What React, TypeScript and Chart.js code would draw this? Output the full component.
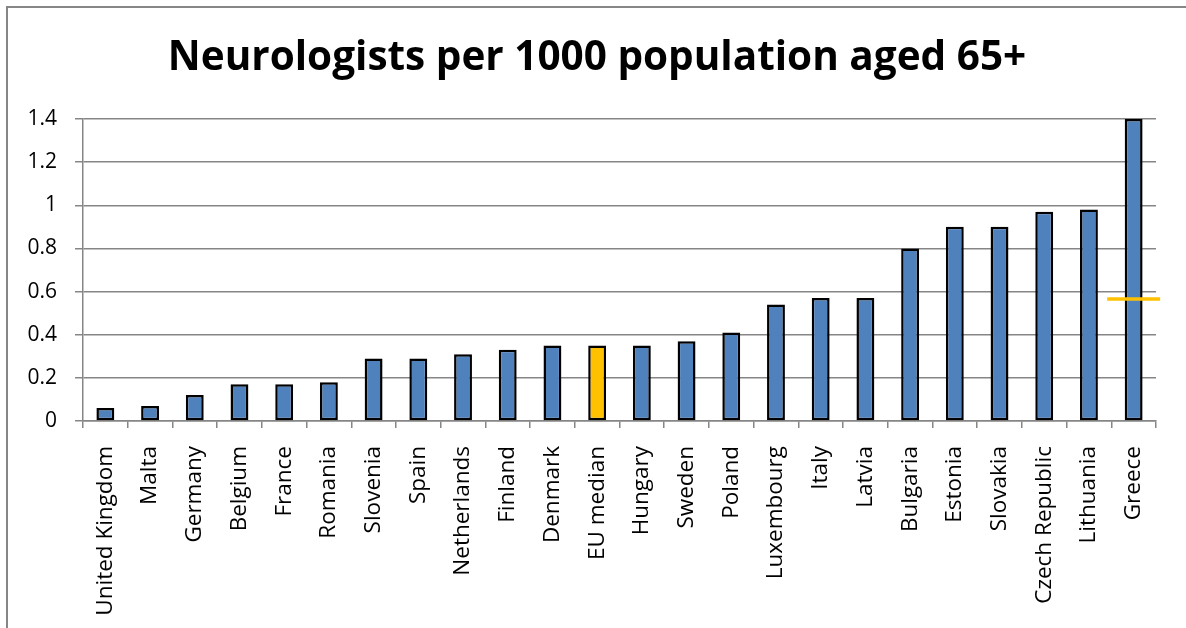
import React, { useEffect, useRef } from "react";
import { Chart, registerables } from "chart.js";

Chart.register(...registerables);

// Countries sorted by density, with the EU median placed in sequence
const categories = [
  "United Kingdom", "Malta", "Germany", "Belgium", "France", "Romania",
  "Slovenia", "Spain", "Netherlands", "Finland", "Denmark", "EU median",
  "Hungary", "Sweden", "Poland", "Luxembourg", "Italy", "Latvia",
  "Bulgaria", "Estonia", "Slovakia", "Czech Republic", "Lithuania", "Greece",
];

// Neurologists per 1000 population aged 65+
const values = [
  0.06, 0.07, 0.12, 0.17, 0.17, 0.18,
  0.29, 0.29, 0.31, 0.33, 0.35, 0.35,
  0.35, 0.37, 0.41, 0.54, 0.57, 0.57,
  0.8, 0.9, 0.9, 0.97, 0.98, 1.4,
];

// Short horizontal marker shown on the last category
const markerLevel = 0.566;

const medianCategory = "EU median";
const yMin = 0;
const yMax = 1.4;
const yStep = 0.2;

const title = "Neurologists per 1000 population aged 65+";

const BLUE = "#4F81BD";
const ORANGE = "#FFC000";
const GRID = "#868686";

// Centre the title on the whole canvas rather than on the padded area
const fullWidthTitle = {
  id: "fullWidthTitle",
  afterLayout(chart: any) {
    const t = chart.titleBlock;
    if (t) {
      t.left = 0;
      t.right = chart.width;
      t.width = chart.width;
    }
  },
};

export default function App() {
  const canvasRef = useRef<HTMLCanvasElement | null>(null);

  useEffect(() => {
    const canvas = canvasRef.current;
    if (!canvas) return;

    const markerData = values.map((_, i) => (i === values.length - 1 ? markerLevel : null));

    const chart = new Chart(canvas, {
      type: "bar",
      data: {
        labels: categories,
        datasets: [
          {
            type: "line",
            label: "marker",
            data: markerData,
            showLine: false,
            pointStyle: "line",
            pointRadius: 26.5,
            pointBorderWidth: 3.5,
            pointBorderColor: ORANGE,
            pointBackgroundColor: ORANGE,
            clip: false,
            order: 0,
          } as any,
          {
            type: "bar",
            label: "Neurologists",
            data: values,
            backgroundColor: categories.map((c) => (c === medianCategory ? ORANGE : BLUE)),
            borderColor: "#000000",
            borderWidth: 2.5,
            borderSkipped: false,
            barPercentage: 0.4,
            categoryPercentage: 1,
            order: 1,
          },
        ],
      },
      plugins: [fullWidthTitle],
      options: {
        responsive: false,
        animation: false,
        events: [],
        layout: { padding: { left: 0, right: 28, top: 0, bottom: 0 } },
        plugins: {
          legend: { display: false },
          tooltip: { enabled: false },
          title: {
            display: true,
            text: title,
            color: "#000000",
            font: { family: "'Open Sans', sans-serif", size: 40.5, weight: "bold", lineHeight: 1.2 },
            padding: { top: 26.5, bottom: 35.9 },
          },
        },
        scales: {
          x: {
            offset: true,
            grid: {
              display: true,
              offset: true,
              drawOnChartArea: false,
              drawTicks: true,
              tickLength: 7,
              color: GRID,
              lineWidth: 1.5,
            },
            border: { display: true, color: GRID, width: 1.5 },
            ticks: {
              autoSkip: false,
              minRotation: 90,
              maxRotation: 90,
              padding: 18,
              color: "#000000",
              font: { family: "'Open Sans', sans-serif", size: 22.5 },
            },
            afterFit: (scale: any) => {
              scale.height = 207;
            },
          },
          y: {
            min: yMin,
            max: yMax,
            ticks: {
              stepSize: yStep,
              padding: 18,
              color: "#000000",
              font: { family: "'Open Sans', sans-serif", size: 21 },
              callback: (v: any) => String(Number(Number(v).toFixed(1))),
            },
            grid: {
              color: GRID,
              lineWidth: 1.5,
              drawTicks: true,
              tickLength: 8,
            },
            border: { display: true, color: GRID, width: 1.5 },
            afterFit: (scale: any) => {
              scale.width = 75;
            },
          },
        },
      },
    });

    return () => chart.destroy();
  }, []);

  return (
    <div
      style={{
        position: "fixed",
        left: 0,
        top: 0,
        width: 1186,
        height: 628,
        overflow: "hidden",
        background: "#ffffff",
      }}
    >
      <div
        style={{
          position: "absolute",
          left: 6,
          top: 6,
          width: 1200,
          height: 640,
          borderLeft: `2px solid ${GRID}`,
          borderTop: `2px solid ${GRID}`,
          boxSizing: "border-box",
        }}
      />
      <canvas
        ref={canvasRef}
        width={1178}
        height={620}
        style={{ position: "absolute", left: 8, top: 8, width: 1178, height: 620 }}
      />
    </div>
  );
}
